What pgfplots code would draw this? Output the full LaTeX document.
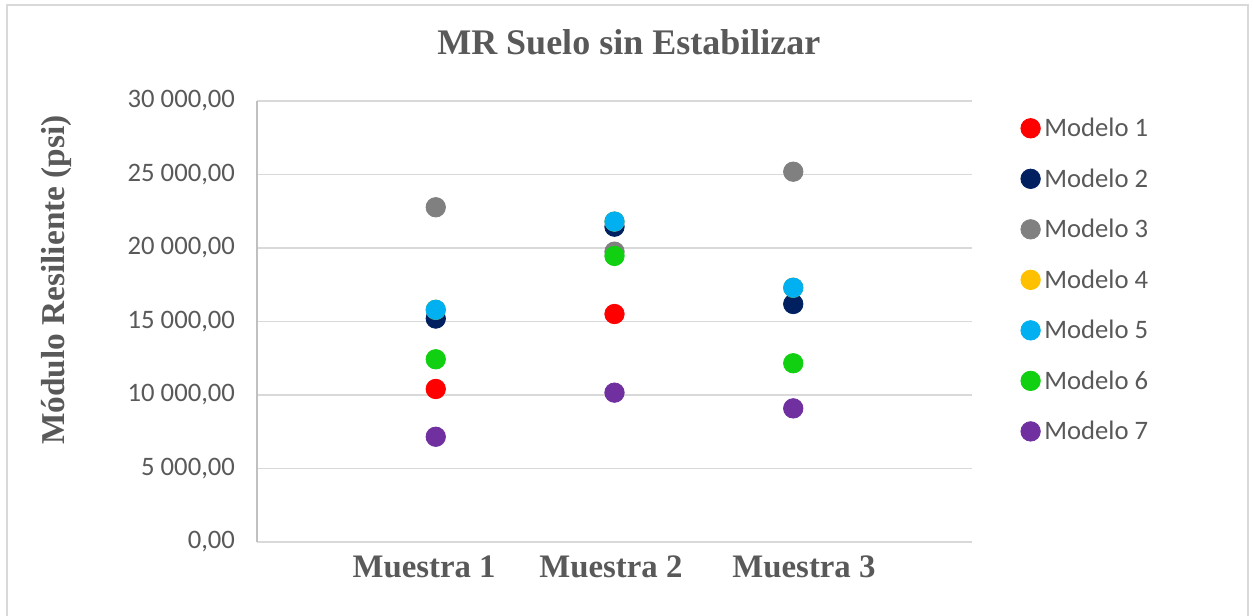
\documentclass[border=0pt]{standalone}
\usepackage{pgfplots}
\pgfplotsset{compat=1.18}
\usepackage{fontspec}
\setmainfont{Liberation Serif}
\newfontfamily\calibri{Carlito}
\definecolor{cRed}{HTML}{FF0000}
\definecolor{cNavy}{HTML}{002060}
\definecolor{cGray}{HTML}{808080}
\definecolor{cYellow}{HTML}{FFC000}
\definecolor{cBlue}{HTML}{00B0F0}
\definecolor{cGreen}{HTML}{11D011}
\definecolor{cPurple}{HTML}{7030A0}
\definecolor{txt}{HTML}{595959}
\definecolor{gridc}{HTML}{D9D9D9}
\definecolor{yaxc}{HTML}{C0C0C0}
\begin{document}
\begin{tikzpicture}
% picture frame: 1253 x 615 px at 0.75pt/px
\path[use as bounding box] (0,0) rectangle (939.75pt,461.25pt);
\draw[gridc, line width=1.5pt] (5.25pt,-2pt) -- (5.25pt,457.5pt) -- (936pt,457.5pt) -- (936pt,-2pt);
\begin{axis}[
  at={(192.75pt,54.75pt)}, anchor=south west,
  scale only axis, width=536.25pt, height=330.75pt,
  xmin=0, xmax=4, ymin=0, ymax=30000,
  xtick={0.935,1.98,3.06}, xticklabels={Muestra 1,Muestra 2,Muestra 3},
  ytick={0,5000,10000,15000,20000,25000,30000},
  scaled y ticks=false,
  yticklabel={\pgfmathprintnumber[fixed,fixed zerofill,precision=2,use comma,1000 sep={\ },assume math mode=true]{\tick}},
  major tick length=0pt,
  axis x line*=bottom, axis y line*=left,
  x axis line style={draw=gridc, line width=1pt, -},
  y axis line style={draw=yaxc, line width=1pt, -},
  ymajorgrids, grid style={draw=gridc, line width=1pt},
  yticklabel style={font=\calibri\fontsize{20}{22}\selectfont, text=txt, anchor=east, xshift=-13pt},
  xticklabel style={font=\bfseries\fontsize{24.6}{28}\selectfont, text=txt, anchor=north, yshift=-7pt},
  title={MR Suelo sin Estabilizar},
  title style={font=\bfseries\fontsize{27}{30}\selectfont, text=txt, at={(axis description cs:0.52,1.116)}, anchor=center},
  ylabel={Módulo Resiliente (psi)},
  ylabel style={font=\bfseries\fontsize{25}{28}\selectfont, text=txt, at={(axis description cs:-0.281,0.594)}, anchor=center, rotate=0},
  legend style={at={(axis description cs:1.068,0.965)}, anchor=north west, draw=none, fill=none,
    font=\calibri\fontsize{20}{22}\selectfont, text=txt, row sep=20.5pt, inner sep=0pt,
    nodes={inner sep=1pt}},
  legend cell align=left,
  /tikz/every odd column/.append style={column sep=2pt},
  legend image code/.code={\draw[#1] plot coordinates {(7.5pt,0pt)};},
  every axis plot/.append style={only marks, mark=*, mark size=7.3pt, line width=0.6pt},
  clip=false,
]
\addplot[color=cRed] coordinates {(1,10410) (2,15510)};
\addlegendentry{Modelo 1}
\addplot[color=cNavy] coordinates {(1,15200) (2,21450) (3,16190)};
\addlegendentry{Modelo 2}
\addplot[color=cGray] coordinates {(1,22770) (2,19750) (3,25190)};
\addlegendentry{Modelo 3}
\addplot[color=cYellow] coordinates {(1,15800) (2,21800) (3,17300)};
\addlegendentry{Modelo 4}
\addplot[color=cBlue] coordinates {(1,15800) (2,21800) (3,17300)};
\addlegendentry{Modelo 5}
\addplot[color=cGreen] coordinates {(1,12430) (2,19460) (3,12160)};
\addlegendentry{Modelo 6}
\addplot[color=cPurple] coordinates {(1,7160) (2,10160) (3,9090)};
\addlegendentry{Modelo 7}
\end{axis}
\end{tikzpicture}
\end{document}
